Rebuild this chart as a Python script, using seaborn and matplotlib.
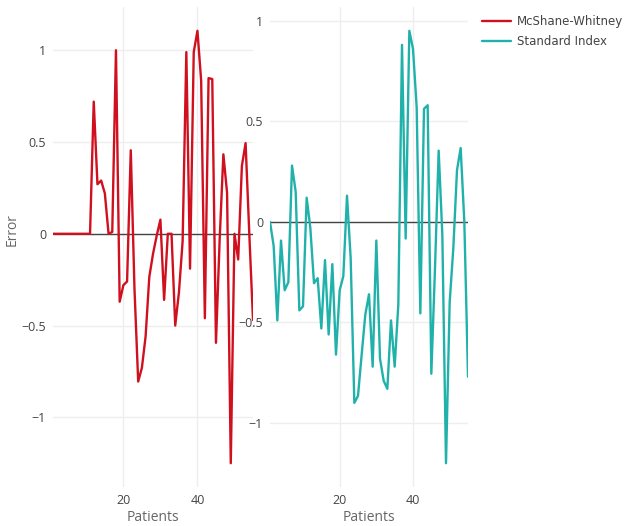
import matplotlib
matplotlib.use("Agg")
import matplotlib.pyplot as plt
import matplotlib.ticker as mticker
from matplotlib.lines import Line2D
import numpy as np
import pandas as pd
import seaborn as sns

patients = list(range(1, 56))

mcshane_whitney = [0, 0, 0, 0, 0, 0, 0, 0, 0, 0, 0,
                   0.72, 0.27, 0.29, 0.22, 0.0, 0.01, 1.0, -0.37, -0.28,
                   -0.26, 0.455, -0.3, -0.805, -0.73, -0.56, -0.235, -0.11, -0.01, 0.077,
                   -0.36, 0.0, 0.0, -0.5, -0.32, -0.04, 0.99, -0.19, 0.99, 1.106,
                   0.835, -0.46, 0.848, 0.843, -0.594, -0.03, 0.433, 0.223, -1.25, 0.0,
                   -0.14, 0.37, 0.494, 0.0, -0.47]

standard_index = [0.0, -0.12, -0.49, -0.093, -0.34, -0.30, 0.28, 0.15, -0.44, -0.42,
                  0.12, -0.03, -0.305, -0.28, -0.53, -0.19, -0.56, -0.21, -0.66, -0.34,
                  -0.27, 0.13, -0.18, -0.90, -0.865, -0.66, -0.46, -0.36, -0.72, -0.093,
                  -0.68, -0.79, -0.83, -0.49, -0.72, -0.41, 0.88, -0.083, 0.95, 0.86,
                  0.57, -0.455, 0.562, 0.58, -0.755, -0.23, 0.354, -0.063, -1.2, -0.4,
                  -0.13, 0.257, 0.367, 0.0, -0.77]

series_names = ["McShane-Whitney", "Standard Index"]
series_colors = ["#d0101e", "#20b2aa"]
x_ticks = [20, 40]
y_ticks = [-1, -0.5, 0, 0.5, 1]

sns.set_style("white")
plt.rcParams["font.family"] = ["Open Sans", "DejaVu Sans"]

TXT = "#444444"
TITLE = "#666666"
GRID = "#eeeeee"

fig = plt.figure(figsize=(6.25, 5.26), dpi=100)
W, H = 625.0, 526.0
top_px, bot_px = 7.0, 487.0
ax1 = fig.add_axes([53 / W, 1 - bot_px / H, 200 / W, (bot_px - top_px) / H])
ax2 = fig.add_axes([270 / W, 1 - bot_px / H, 198 / W, (bot_px - top_px) / H])

df1 = pd.DataFrame({"Patients": patients, "Error": mcshane_whitney})
df2 = pd.DataFrame({"Patients": patients, "Error": standard_index})

fmt = mticker.FuncFormatter(lambda v, p: ("%g" % v).replace("-", "\u2212"))

for ax, df, color, name in [(ax1, df1, series_colors[0], series_names[0]),
                            (ax2, df2, series_colors[1], series_names[1])]:
    ax.axhline(0, color=TXT, lw=1.0, zorder=1)
    sns.lineplot(data=df, x="Patients", y="Error", ax=ax, color=color,
                 linewidth=1.7, zorder=3, legend=False)
    vals = df["Error"].to_numpy()
    lo, hi = vals.min(), vals.max()
    pad = (hi - lo) * 0.055
    ax.set_ylim(lo - pad, hi + pad)
    ax.set_xlim(min(patients), max(patients))
    ax.set_xticks(x_ticks)
    ax.set_yticks(y_ticks)
    ax.yaxis.set_major_formatter(fmt)
    ax.grid(True, color=GRID, lw=1.0, zorder=0)
    ax.set_axisbelow(True)
    for s in ax.spines.values():
        s.set_visible(False)
    ax.tick_params(axis="both", length=0, labelsize=9, colors=TXT)
    ax.tick_params(axis="y", pad=5)
    ax.tick_params(axis="x", pad=5)
    ax.set_xlabel("Patients", fontsize=10, color=TITLE, labelpad=2)
    ax.set_ylabel("")
    ax.set_facecolor("white")

fig.text(12 / W, 1 - 230 / H, "Error", rotation=90, ha="center", va="center",
         fontsize=10, color=TITLE)

handles = [Line2D([0], [0], color=c, lw=1.7) for c in series_colors]
leg = fig.legend(handles, series_names, loc="upper left",
                 bbox_to_anchor=(477 / W, 1 - 10 / H), frameon=False,
                 prop={"family": ["DejaVu Sans"], "size": 8.5},
                 handlelength=2.45, handletextpad=0.5,
                 labelspacing=0.6, borderaxespad=0)
for t in leg.get_texts():
    t.set_color(TXT)

fig.savefig("out.png", dpi=100)
